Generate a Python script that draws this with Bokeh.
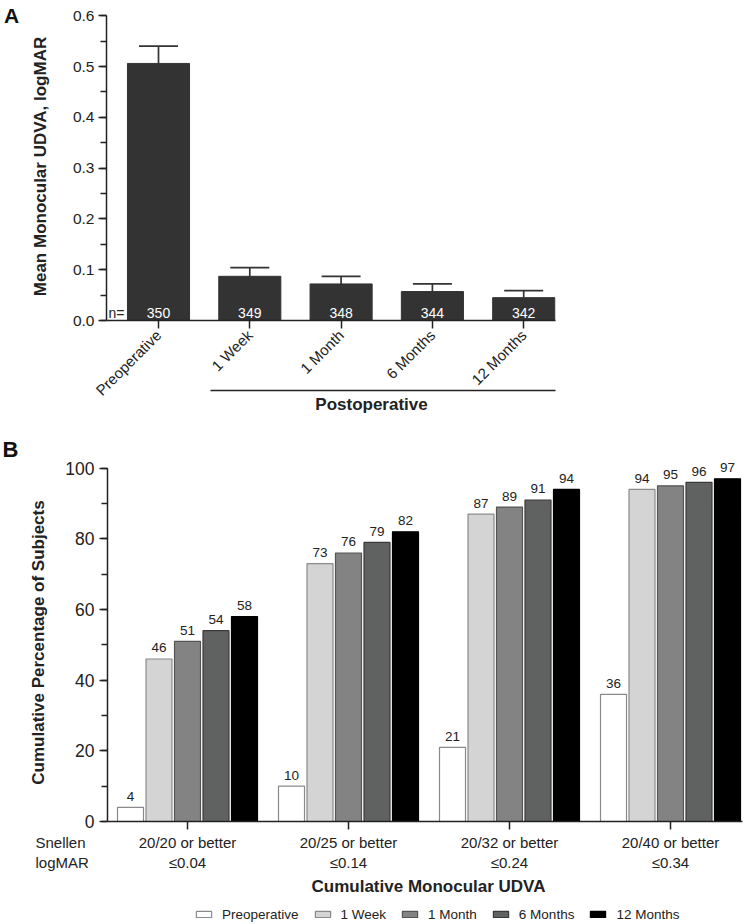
import math
from bokeh.plotting import figure
from bokeh.models import (Range1d, SingleIntervalTicker, FixedTicker, PrintfTickFormatter,
                          ColumnDataSource, Label, Arrow, Legend, LegendItem, Whisker, TeeHead)
from bokeh.layouts import column
from bokeh.transform import dodge
from bokeh.embed import file_html
from bokeh.resources import INLINE
from bokeh.core.properties import value

# ---------------- data ----------------
# Panel A
cats_a = ["Preoperative", "1 Week", "1 Month", "6 Months", "12 Months"]
mean_a = [0.506, 0.087, 0.072, 0.057, 0.045]
err_a = [0.034, 0.017, 0.015, 0.015, 0.014]
n_a = [350, 349, 348, 344, 342]

# Panel B
snellen_b = ["20/20 or better", "20/25 or better", "20/32 or better", "20/40 or better"]
logmar_b = ["\u22640.04", "\u22640.14", "\u22640.24", "\u22640.34"]
series_b = ["Preoperative", "1 Week", "1 Month", "6 Months", "12 Months"]
preop_b = [4, 10, 21, 36]
week1_b = [46, 73, 87, 94]
month1_b = [51, 76, 89, 95]
month6_b = [54, 79, 91, 96]
month12_b = [58, 82, 94, 97]

FONT = "Liberation Sans"
TXT = "#222222"
AX = "#222222"
W = 751
HA, HB = 418, 506

# ---------------- layout (pixel geometry of each panel) ----------------
# panel A: category 0 at px 158, 91.3 px per category; y=0 at px 320, 508 px per unit
A_X0, A_DX, A_Y0, A_DY = 158.0, 91.3, 320.0, 508.0
# panel B: group 0 at px 187, 161 px per group; y=0 at px 821 (page), 3.533 px per %
B_X0, B_DX, B_Y0, B_DY = 187.0, 161.0, 821.0 - HA, 3.533


def ax_(px): return (px - A_X0) / A_DX
def ay_(py): return (A_Y0 - py) / A_DY
def bx_(px): return (px - B_X0) / B_DX
def by_(py): return (B_Y0 - (py - HA)) / B_DY


def style_axes(p):
    p.outline_line_color = None
    p.grid.visible = False
    p.background_fill_color = "white"
    p.border_fill_color = "white"
    for ax in p.axis:
        ax.axis_line_color = AX
        ax.axis_line_width = 1.5
        ax.major_tick_line_color = AX
        ax.major_tick_line_width = 1.5
        ax.minor_tick_line_color = AX
        ax.minor_tick_line_width = 1.5
        ax.major_tick_in = 0
        ax.major_tick_out = 8
        ax.minor_tick_in = 0
        ax.minor_tick_out = 6
        ax.major_label_text_font = FONT
        ax.major_label_text_color = TXT


def lab(p, x, y, text, size, bold=False, align="center", baseline="middle", angle=0.0,
        color=TXT):
    p.add_layout(Label(x=x, y=y, text=text, text_font=FONT, text_font_size=size,
                       text_font_style="bold" if bold else "normal", text_color=color,
                       text_align=align, text_baseline=baseline, angle=angle))


# ---------------- Panel A ----------------
xa = list(range(len(cats_a)))
src_a = ColumnDataSource(dict(
    x=xa, top=mean_a,
    up=[m + e for m, e in zip(mean_a, err_a)],
    n=[str(v) for v in n_a],
))

pa = figure(width=W, height=HA, min_border=0,
            x_range=Range1d(ax_(0), ax_(W)), y_range=Range1d(ay_(HA), ay_(0)),
            output_backend="svg", toolbar_location=None)
style_axes(pa)

pa.add_layout(Whisker(base="x", upper="up", lower="top", source=src_a, dimension="height",
                      line_color="#333333", line_width=1.7,
                      upper_head=TeeHead(size=39, line_color="#333333", line_width=1.7),
                      lower_head=None))
pa.vbar(x="x", top="top", width=0.68, source=src_a, fill_color="#333333",
        line_color="#333333", line_width=1)
pa.text(x="x", y=0, text="n", source=src_a, text_color="white",
        text_font=value(FONT), text_font_size="14px", text_align="center",
        text_baseline="middle", y_offset=-8)

y_left_a = ax_(106)
pa.xaxis.fixed_location = 0
pa.xaxis.bounds = (y_left_a, ax_(555))
pa.xaxis.ticker = FixedTicker(ticks=xa)
pa.xaxis.major_label_overrides = {i: c for i, c in enumerate(cats_a)}
pa.xaxis.major_label_orientation = math.pi / 4
pa.xaxis.major_label_text_font_size = "15px"
pa.xaxis.major_label_standoff = 4
pa.xaxis.minor_tick_line_color = None

pa.yaxis.fixed_location = y_left_a
pa.yaxis.bounds = (0, 0.6001)
pa.yaxis.ticker = SingleIntervalTicker(interval=0.1, num_minor_ticks=2)
pa.yaxis.formatter = PrintfTickFormatter(format="%.1f")
pa.yaxis.major_label_text_font_size = "15.5px"
pa.yaxis.major_label_standoff = 4

lab(pa, ax_(40), ay_(166), "Mean Monocular UDVA, logMAR", "17px", bold=True, angle=math.pi / 2)
lab(pa, ax_(108), ay_(312.5), "n=", "14px", align="left")
pa.add_layout(Arrow(x_start=ax_(210), y_start=ay_(390), x_end=ax_(555), y_end=ay_(390),
                    start=None, end=None, line_color=AX, line_width=1.5))
lab(pa, ax_(371), ay_(404), "Postoperative", "17px", bold=True)
lab(pa, ax_(11), ay_(15), "A", "21px", bold=True, color="#111111")

# ---------------- Panel B ----------------
xb = list(range(len(snellen_b)))
cols = [preop_b, week1_b, month1_b, month6_b, month12_b]
data_b = {"x": xb}
for k, vals in enumerate(cols):
    data_b[f"v{k}"] = vals
    data_b[f"t{k}"] = [str(v) for v in vals]
src_b = ColumnDataSource(data_b)

pb = figure(width=W, height=HB, min_border=0,
            x_range=Range1d(bx_(0), bx_(W)), y_range=Range1d(by_(HA + HB), by_(HA)),
            output_backend="svg", toolbar_location=None)
style_axes(pb)

fills = ["#ffffff", "#d4d4d4", "#838383", "#606261", "#000000"]
lines = ["#8a8a8a", "#8a8a8a", "#555555", "#3a3a3a", "#000000"]
pitch = 0.177
items = []
for k, s in enumerate(series_b):
    off = (k - 2) * pitch
    r = pb.vbar(x=dodge("x", off), top=f"v{k}", width=0.1615, source=src_b,
                fill_color=fills[k], line_color=lines[k], line_width=1.2)
    pb.text(x=dodge("x", off), y=f"v{k}", text=f"t{k}", source=src_b,
            text_font=value(FONT), text_font_size="13.5px", text_color=TXT,
            text_align="center", text_baseline="middle", y_offset=-11)
    items.append(LegendItem(label=s, renderers=[r]))

y_left_b = bx_(107)
pb.xaxis.fixed_location = 0
pb.xaxis.bounds = (y_left_b, bx_(742))
pb.xaxis.ticker = FixedTicker(ticks=xb)
pb.xaxis.major_label_overrides = {i: f"{a}\n{b}" for i, (a, b) in enumerate(zip(snellen_b, logmar_b))}
pb.xaxis.major_label_text_font_size = "15px"
pb.xaxis.major_label_standoff = 4
pb.xaxis.minor_tick_line_color = None

pb.yaxis.fixed_location = y_left_b
pb.yaxis.bounds = (0, 100.01)
pb.yaxis.ticker = SingleIntervalTicker(interval=20, num_minor_ticks=2)
pb.yaxis.major_label_text_font_size = "17.5px"
pb.yaxis.major_label_standoff = 5

lab(pb, bx_(38), by_(642), "Cumulative Percentage of Subjects", "17px", bold=True, angle=math.pi / 2)
lab(pb, bx_(428), by_(886), "Cumulative Monocular UDVA", "17px", bold=True)
lab(pb, bx_(35), by_(842), "Snellen", "15px", align="left")
lab(pb, bx_(35), by_(862), "logMAR", "15px", align="left")
lab(pb, bx_(10), by_(449), "B", "22px", bold=True, color="#111111")

legend = Legend(items=items, orientation="horizontal", location=(194, 2),
                glyph_width=19, glyph_height=8, label_standoff=9, spacing=14,
                padding=0, margin=0, border_line_color=None, background_fill_alpha=0,
                label_text_font=FONT, label_text_font_size="13.5px", label_text_color=TXT,
                label_height=16)
pb.add_layout(legend)

layout = column(pa, pb, spacing=0)
open("out.html", "w").write(file_html(layout, INLINE))
